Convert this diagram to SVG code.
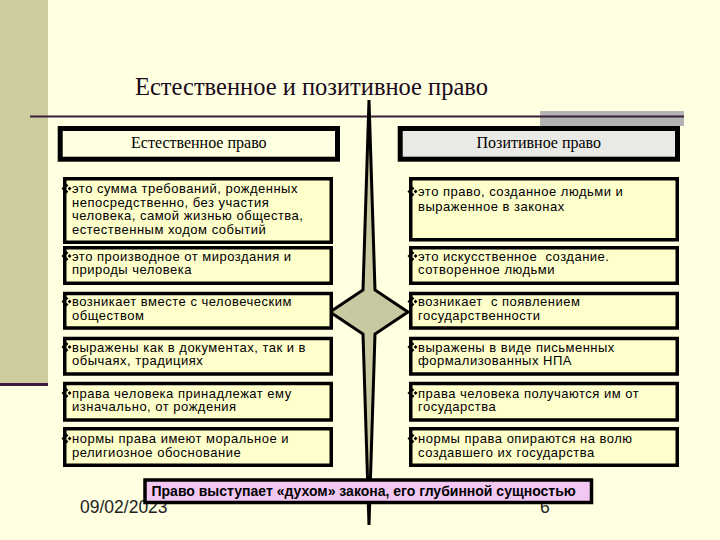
<svg xmlns="http://www.w3.org/2000/svg" width="720" height="540" viewBox="0 0 720 540">
<style>
.bg{fill:#FFFFE1}
.hdr{stroke:#000;stroke-width:5}
.box{fill:#FFFFCC;stroke:#000;stroke-width:3.5}
.t{font-family:"Liberation Sans",Arial,sans-serif;font-size:13px;fill:#000;letter-spacing:0.5px;white-space:pre}
.ht{font-family:"Liberation Serif","Times New Roman",serif;font-size:16px;fill:#000;text-anchor:middle}
</style>
<defs>
<g id="bul"><path d="M0,-5 L1.9,-3.1 L0,-1.2 L-1.9,-3.1Z M0,5 L1.9,3.1 L0,1.2 L-1.9,3.1Z M-5,0 L-3.1,1.9 L-1.2,0 L-3.1,-1.9Z M5,0 L3.1,1.9 L1.2,0 L3.1,-1.9Z" fill="#000"/></g>
</defs>
<rect class="bg" x="0" y="0" width="720" height="540"/>
<g id="decor">
<rect x="0" y="0" width="48" height="383" fill="#CCCC9E"/>
<rect x="0" y="383" width="48" height="3" fill="#3D1A3D"/>
<rect x="540" y="111" width="144" height="15" fill="#B3B3B3"/>
<line x1="30" y1="116.5" x2="684" y2="116.5" stroke="#3A1F3A" stroke-width="2"/>
</g>
<g id="title"><text x="135" y="95" font-family="Liberation Serif, Times New Roman, serif" font-size="24.5" fill="#1A0A1A">Естественное и позитивное право</text></g>
<g id="connectors">
<polygon points="369,100 375,290 408,312 375,334 369,525 363,334 330,312 363,290" fill="#C9C9A1" stroke="#000" stroke-width="3" stroke-linejoin="miter" stroke-miterlimit="20"/>
</g>
<g id="hdr-natural"><rect class="hdr" x="60.2" y="128.5" width="277.3" height="30.7" fill="#FFFFE1"/><text class="ht" x="198.8" y="147.5">Естественное право</text></g>
<g id="hdr-positive"><rect class="hdr" x="400.2" y="128.5" width="277.3" height="30.7" fill="#E9E9E6"/><text class="ht" x="538.8" y="147.5">Позитивное право</text></g>

<g id="n1"><rect class="box" x="64.75" y="178.75" width="266.5" height="63.5"/><use href="#bul" x="66.5" y="188.5"/><text class="t" x="72" y="193">это сумма требований, рожденных</text><text class="t" x="72" y="206.5">непосредственно, без участия</text><text class="t" x="72" y="220">человека, самой жизнью общества,</text><text class="t" x="72" y="233.5">естественным ходом событий</text></g>
<g id="n2"><rect class="box" x="64.75" y="247.75" width="266.5" height="35.5"/><use href="#bul" x="66.5" y="256"/><text class="t" x="72" y="260.5">это производное от мироздания и</text><text class="t" x="72" y="274">природы человека</text></g>
<g id="n3"><rect class="box" x="64.75" y="293.5" width="266.5" height="34.5"/><use href="#bul" x="66.5" y="301.5"/><text class="t" x="72" y="306">возникает вместе с человеческим</text><text class="t" x="72" y="320">обществом</text></g>
<g id="n4"><rect class="box" x="64.75" y="338.5" width="266.5" height="35.5"/><use href="#bul" x="66.5" y="347"/><text class="t" x="72" y="351.5">выражены как в документах, так и в</text><text class="t" x="72" y="365">обычаях, традициях</text></g>
<g id="n5"><rect class="box" x="64.75" y="383.5" width="266.5" height="36.5"/><use href="#bul" x="66.5" y="393"/><text class="t" x="72" y="397.5">права человека принадлежат ему</text><text class="t" x="72" y="411">изначально, от рождения</text></g>
<g id="n6"><rect class="box" x="64.75" y="428.75" width="266.5" height="36.5"/><use href="#bul" x="66.5" y="438.5"/><text class="t" x="72" y="443">нормы права имеют моральное и</text><text class="t" x="72" y="456.5">религиозное обоснование</text></g>

<g id="p1"><rect class="box" x="410.75" y="178.75" width="266.5" height="61"/><use href="#bul" x="412.5" y="191.5"/><text class="t" x="418" y="196">это право, созданное людьми и</text><text class="t" x="418" y="211">выраженное в законах</text></g>
<g id="p2"><rect class="box" x="410.75" y="247.75" width="266.5" height="35.5"/><use href="#bul" x="412.5" y="256"/><text class="t" x="418" y="260.5">это искусственное  создание.</text><text class="t" x="418" y="274">сотворенное людьми</text></g>
<g id="p3"><rect class="box" x="410.75" y="293.5" width="266.5" height="34.5"/><use href="#bul" x="412.5" y="301.5"/><text class="t" x="418" y="306">возникает  с появлением</text><text class="t" x="418" y="320">государственности</text></g>
<g id="p4"><rect class="box" x="410.75" y="338.5" width="266.5" height="35.5"/><use href="#bul" x="412.5" y="347"/><text class="t" x="418" y="351.5">выражены в виде письменных</text><text class="t" x="418" y="365">формализованных НПА</text></g>
<g id="p5"><rect class="box" x="410.75" y="383.5" width="266.5" height="36.5"/><use href="#bul" x="412.5" y="393"/><text class="t" x="418" y="397.5">права человека получаются им от</text><text class="t" x="418" y="411">государства</text></g>
<g id="p6"><rect class="box" x="410.75" y="428.75" width="266.5" height="36.5"/><use href="#bul" x="412.5" y="438.5"/><text class="t" x="418" y="443">нормы права опираются на волю</text><text class="t" x="418" y="456.5">создавшего их государства</text></g>

<g id="footer"><text x="80" y="513" font-family="Liberation Sans, Arial, sans-serif" font-size="17.5" fill="#222">09/02/2023</text><text x="540" y="513" font-family="Liberation Sans, Arial, sans-serif" font-size="17.5" fill="#222">6</text></g>
<g id="summary"><rect x="145" y="480" width="446.5" height="22.5" fill="#F2C8F2" stroke="#000" stroke-width="3.5"/><text x="151.5" y="496" font-family="Liberation Sans, Arial, sans-serif" font-size="14" font-weight="bold" fill="#000">Право выступает «духом» закона, его глубинной сущностью</text></g>
</svg>
